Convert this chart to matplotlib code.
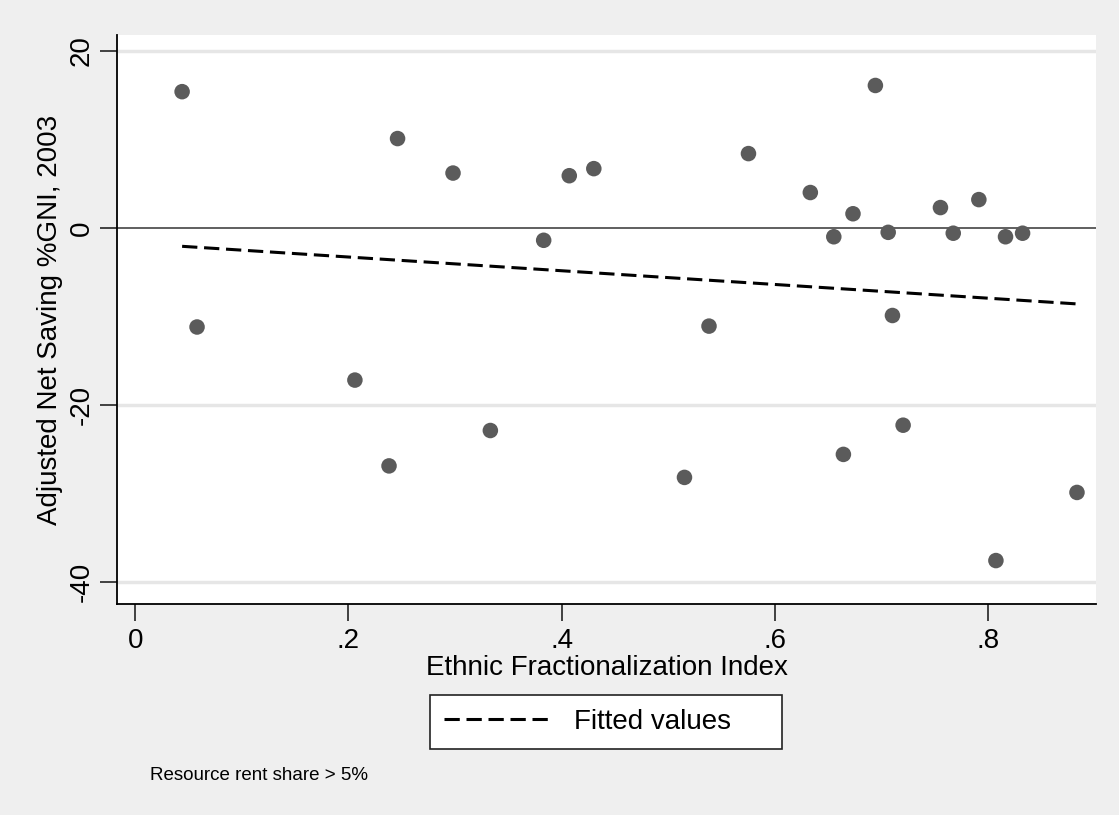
import numpy as np
import matplotlib
matplotlib.use("Agg")
import matplotlib.pyplot as plt

plt.rcParams["font.family"] = ["Liberation Sans", "DejaVu Sans"]

# ethnic fractionalization index vs adjusted net saving (% GNI, 2003)
efrac = [0.044, 0.058, 0.206, 0.238, 0.246, 0.298, 0.333, 0.383, 0.407, 0.430,
         0.515, 0.538, 0.575, 0.633, 0.655, 0.664, 0.673, 0.694, 0.706, 0.710,
         0.720, 0.755, 0.767, 0.791, 0.807, 0.816, 0.832, 0.883]
saving = [15.4, -11.2, -17.2, -26.9, 10.1, 6.2, -22.9, -1.4, 5.9, 6.7,
          -28.2, -11.1, 8.4, 4.0, -1.0, -25.6, 1.6, 16.1, -0.5, -9.9,
          -22.3, 2.3, -0.6, 3.2, -37.6, -1.0, -0.6, -29.9]

xticks = [0, 0.2, 0.4, 0.6, 0.8]
xticklabels = ["0", ".2", ".4", ".6", ".8"]
yticks = [-40, -20, 0, 20]

bg = "#efefef"
fig = plt.figure(figsize=(11.19, 8.15), dpi=100, facecolor=bg)
ax = fig.add_axes([0.1046, 0.259, 0.875, 0.698])

x = np.array(efrac)
y = np.array(saving)

# linear fit, like stata's lfit
b, a = np.polyfit(x, y, 1)
xs = np.array([x.min(), x.max()])

for v in [-40, -20, 20]:
    ax.axhline(v, color="#e6e6e6", lw=2.5, zorder=1)
ax.axhline(0, color="#444444", lw=1.2, zorder=1)

ax.scatter(x, y, s=125, color="#5b5b5b", edgecolors="none", zorder=3)
ax.plot(xs, a + b * xs, color="black", lw=2.2, ls=(0, (5, 2.2)), zorder=2,
        label="Fitted values")

ax.set_xlim(-0.017, 0.901)
ax.set_ylim(-42.5, 21.8)
ax.set_xticks(xticks)
ax.set_xticklabels(xticklabels)
ax.set_yticks(yticks)
ax.set_yticklabels([str(v) for v in yticks], rotation=90, va="center")

for side in ["top", "right"]:
    ax.spines[side].set_visible(False)
for side in ["left", "bottom"]:
    ax.spines[side].set_linewidth(1.3)
ax.tick_params(length=12, width=1.3, labelsize=20, color="#333333")
ax.tick_params(axis="x", pad=5)
ax.tick_params(axis="y", pad=4)

ax.set_xlabel("Ethnic Fractionalization Index", fontsize=20, labelpad=1)
ax.set_ylabel("Adjusted Net Saving %GNI, 2003", fontsize=20, labelpad=4)

# stata-like legend box: content on the left, wide frame
leg = fig.legend(loc="center left", bbox_to_anchor=(0.3843, 0.0822, 0.3146, 0.0638),
                 mode="expand", fontsize=20, frameon=True, fancybox=False,
                 handlelength=3.9, borderpad=0.5, handletextpad=0.8,
                 borderaxespad=0)
leg.get_frame().set_edgecolor("#222222")
leg.get_frame().set_linewidth(1.2)
leg.get_frame().set_facecolor("white")
leg.get_frame().set_alpha(1)

fig.text(0.134, 0.048, "Resource rent share > 5%", fontsize=13.5, va="center")

fig.savefig("out.png", dpi=100, facecolor=bg)
